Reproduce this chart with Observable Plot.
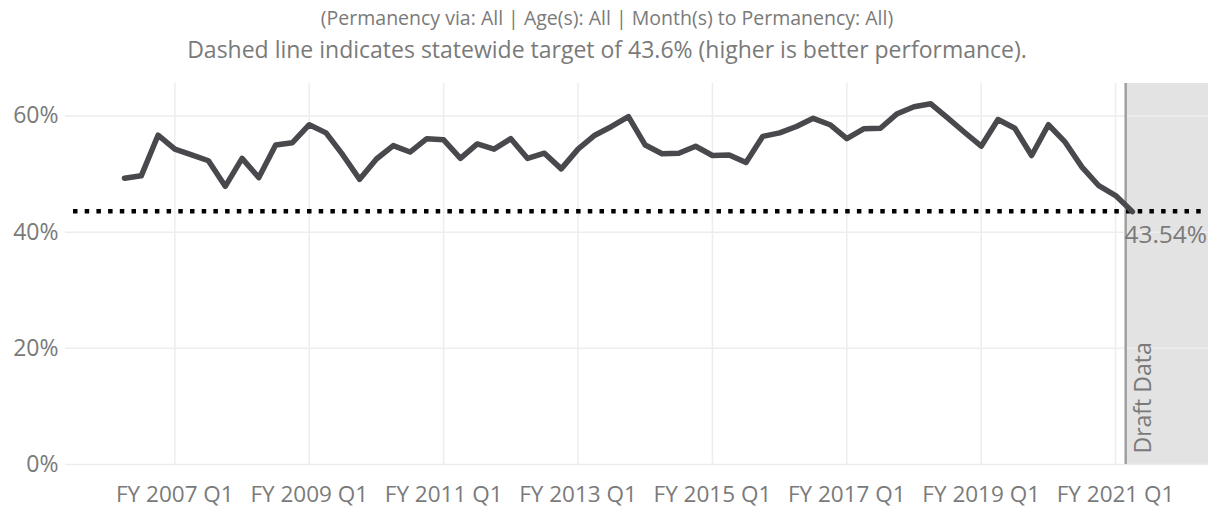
<!DOCTYPE html>
<html><head><meta charset="utf-8">
<script src="https://cdn.jsdelivr.net/npm/d3@7"></script>
<script src="https://cdn.jsdelivr.net/npm/@observablehq/plot@0.6"></script>
<style>
html,body{margin:0;padding:0;background:#fff;}
body{font-family:"Open Sans",sans-serif;width:1214px;}
#head{height:70px;box-sizing:border-box;padding-top:3px;text-align:center;color:#7a7a7a;}
#head .l1{font-size:19.5px;line-height:30px;}
#head .l2{font-size:23px;line-height:32px;}
#chart svg{display:block;}
</style></head><body>
<div id="head">
<div class="l1">(Permanency via: All | Age(s): All | Month(s) to Permanency: All)</div>
<div class="l2">Dashed line indicates statewide target of 43.6% (higher is better performance).</div>
</div>
<div id="chart"></div>
<script>
const quarters = [
"FY 2006 Q2","FY 2006 Q3","FY 2006 Q4",
"FY 2007 Q1","FY 2007 Q2","FY 2007 Q3","FY 2007 Q4",
"FY 2008 Q1","FY 2008 Q2","FY 2008 Q3","FY 2008 Q4",
"FY 2009 Q1","FY 2009 Q2","FY 2009 Q3","FY 2009 Q4",
"FY 2010 Q1","FY 2010 Q2","FY 2010 Q3","FY 2010 Q4",
"FY 2011 Q1","FY 2011 Q2","FY 2011 Q3","FY 2011 Q4",
"FY 2012 Q1","FY 2012 Q2","FY 2012 Q3","FY 2012 Q4",
"FY 2013 Q1","FY 2013 Q2","FY 2013 Q3","FY 2013 Q4",
"FY 2014 Q1","FY 2014 Q2","FY 2014 Q3","FY 2014 Q4",
"FY 2015 Q1","FY 2015 Q2","FY 2015 Q3","FY 2015 Q4",
"FY 2016 Q1","FY 2016 Q2","FY 2016 Q3","FY 2016 Q4",
"FY 2017 Q1","FY 2017 Q2","FY 2017 Q3","FY 2017 Q4",
"FY 2018 Q1","FY 2018 Q2","FY 2018 Q3","FY 2018 Q4",
"FY 2019 Q1","FY 2019 Q2","FY 2019 Q3","FY 2019 Q4",
"FY 2020 Q1","FY 2020 Q2","FY 2020 Q3","FY 2020 Q4",
"FY 2021 Q1","FY 2021 Q2"
];
const rates = [
49.3,49.7,56.7,
54.3,53.3,52.3,47.9,
52.7,49.4,55.0,55.4,
58.5,57.1,53.3,49.1,
52.6,54.9,53.8,56.1,
55.9,52.7,55.2,54.3,
56.1,52.7,53.6,50.9,
54.3,56.7,58.2,59.9,
55.0,53.5,53.6,54.8,
53.2,53.3,52.0,56.5,
57.1,58.2,59.6,58.5,
56.1,57.8,57.9,60.4,
61.6,62.1,59.7,57.2,
54.8,59.4,57.9,53.2,
58.5,55.5,51.2,48.0,
46.3,43.54
];
const tickLabels = ["FY 2007 Q1","FY 2009 Q1","FY 2011 Q1","FY 2013 Q1","FY 2015 Q1","FY 2017 Q1","FY 2019 Q1","FY 2021 Q1"];
const yTicks = [0,20,40,60];
const target = 43.6;
const draftStart = 59.6;   // quarter-index position where the draft-data band begins
const lastLabel = "43.54%";

const data = quarters.map((q,i)=>({i, q, v: rates[i]}));
const last = data[data.length-1];
const xDomain = [-3.51, 64.53];
const yDomain = [0, 65.6];
const tickIdx = tickLabels.map(t => quarters.indexOf(t));
const grid = "#ededed";
const txt = "#7a7a7a";

const chart = Plot.plot({
  width: 1214,
  height: 440,
  marginLeft: 65,
  marginRight: 6,
  marginTop: 13,
  marginBottom: 46,
  style: {fontFamily: '"Open Sans", sans-serif', background: "#fff"},
  x: {domain: xDomain},
  y: {domain: yDomain},
  marks: [
    Plot.rect([{x1: draftStart, x2: xDomain[1]}], {x1: "x1", x2: "x2", y1: yDomain[0], y2: yDomain[1], fill: "#e3e3e3"}),
    Plot.ruleY(yTicks, {stroke: grid, strokeWidth: 1.5}),
    Plot.ruleX(tickIdx, {stroke: grid, strokeWidth: 1.5}),
    Plot.ruleX([draftStart], {stroke: "#a0a0a0", strokeWidth: 2.5}),
    Plot.ruleY([target], {stroke: "#000", strokeWidth: 4.3, strokeDasharray: "4.5,7.2", insetLeft: 8, insetRight: 5}),
    Plot.line(data, {x: "i", y: "v", stroke: "#48484d", strokeWidth: 5.5, strokeLinejoin: "round", strokeLinecap: "round"}),
    Plot.text([last], {x: "i", y: "v", text: () => lastLabel, textAnchor: "start", dx: -8, dy: 24, fill: txt, fontSize: 24.5}),
    Plot.text([{x: draftStart + 1.5}], {x: "x", frameAnchor: "bottom", text: () => "Draft Data", rotate: -90, textAnchor: "start", dy: -11, fill: txt, fontSize: 23}),
    Plot.axisY({ticks: yTicks, tickFormat: d => d + "%", tickSize: 0, tickPadding: 7, fontSize: 23, color: txt, label: null}),
    Plot.axisX({ticks: tickIdx, tickFormat: d => quarters[d], tickSize: 0, tickPadding: 22, fontSize: 22.5, color: txt, label: null})
  ]
});
document.getElementById("chart").appendChild(chart);
</script>
</body></html>
